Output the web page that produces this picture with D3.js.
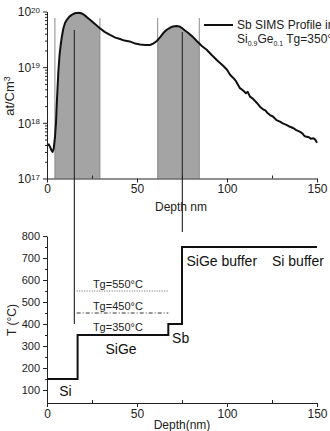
<!DOCTYPE html>
<html>
<head>
<meta charset="utf-8">
<script src="https://cdn.jsdelivr.net/npm/d3@7"></script>
<style>
  html,body{margin:0;padding:0;background:#fff}
  svg{display:block;font-family:'Liberation Sans',Arial,sans-serif}
</style>
</head>
<body>
<svg id="chart" width="330" height="431"></svg>
<script>
// SIMS profile (depth in nm, Sb concentration at/cm3)
const simsDepth = [0, 1, 1.7, 2.5, 3.1, 3.7, 4.4, 5, 5.4, 6.3, 7, 7.6, 8.3, 9.1, 10, 11, 12.3, 13.7, 15.5, 17.4,
  19, 20.2, 22, 23.9, 26.5, 29.4, 32, 35, 38, 40.6, 43, 46, 49, 51.7, 54.5, 57.2, 59, 61, 63, 64.6,
  66.5, 68.3, 70, 72, 73.5, 74.8, 76.5, 78.5, 81, 83.2, 86, 88.7, 91.5, 94.3, 96, 98, 100, 101.7, 103.5, 105,
  107.2, 109, 110.5, 111.5, 112.8, 114.5, 116.5, 118.3, 120, 121.5, 122.5, 123.9, 125.5, 127.5, 129.4, 131, 133, 135, 137, 138.5,
  140.6, 142, 143, 144.3, 145.5, 146.5, 148, 149, 150];
const simsConc = [4.0e17, 4.1e17, 3.7e17, 3.2e17, 3.0e17, 3.4e17, 5.4e17, 1.0e18, 2.1e18, 8.3e18, 1.7e19, 2.5e19, 3.6e19, 5.0e19, 6.2e19, 7.1e19, 8.0e19, 8.7e19, 9.3e19, 9.5e19,
  9.3e19, 8.9e19, 8.0e19, 7.1e19, 6.0e19, 5.0e19, 4.3e19, 3.8e19, 3.4e19, 3.2e19, 3.0e19, 2.9e19, 2.65e19, 2.55e19, 2.5e19, 2.5e19, 2.65e19, 2.95e19, 3.5e19, 4.1e19,
  4.7e19, 5.1e19, 5.4e19, 5.5e19, 5.4e19, 5.1e19, 4.6e19, 4.1e19, 3.5e19, 2.95e19, 2.4e19, 2.05e19, 1.65e19, 1.35e19, 1.2e19, 1.05e19, 9.0e18, 7.3e18, 6.4e18, 5.6e18,
  4.2e18, 3.8e18, 3.4e18, 3.6e18, 2.95e18, 2.7e18, 2.3e18, 1.95e18, 1.75e18, 1.65e18, 1.5e18, 1.38e18, 1.3e18, 1.12e18, 1.05e18, 9.8e17, 9.2e17, 8.5e17, 8.0e17, 7.4e17,
  6.9e17, 6.4e17, 5.8e17, 5.6e17, 5.5e17, 5.2e17, 5.3e17, 5.0e17, 4.4e17];
const bands = [[4.4, 29.4], [61.5, 84.6]];
const markerDepths = [15.2, 75.2];

// growth temperature steps
const stepDepth = [0, 17, 17, 67.4, 67.4, 75, 75, 150];
const stepTemp = [150, 150, 350, 350, 400, 400, 750, 750];
const tgLevels = [550, 450];
const tgRange = [16.5, 67.4];
const layerLabels = [
  { text: 'Si', d: 6.8, t: 75 },
  { text: 'SiGe', d: 32.5, t: 265 },
  { text: 'Sb', d: 69.5, t: 315 },
  { text: 'SiGe buffer', d: 77.5, t: 665 },
  { text: 'Si buffer', d: 125, t: 665 },
];
const tgLabels = [
  { text: 'Tg=550°C', d: 25.5, t: 565 },
  { text: 'Tg=450°C', d: 25.5, t: 465 },
  { text: 'Tg=350°C', d: 25.5, t: 366 },
];

const svg = d3.select('#chart');
const x = d3.scaleLinear().domain([0, 150]).range([47, 317]);
const yTop = d3.scaleLog().domain([1e17, 1e20]).range([178.5, 11.5]);
const yBot = d3.scaleLinear().domain([41, 800]).range([403, 236]);

// ---------- top panel ----------
const sims = simsDepth.map((d, i) => ({ d, c: simsConc[i] }));
const defs = svg.append('defs');
const clip = defs.append('clipPath').attr('id', 'bandclip');
bands.forEach(b => {
  clip.append('rect').attr('x', x(b[0])).attr('y', 0)
    .attr('width', x(b[1]) - x(b[0])).attr('height', 200);
});
svg.append('path').datum(sims)
  .attr('clip-path', 'url(#bandclip)')
  .attr('fill', '#a4a4a4')
  .attr('d', d3.area().x(p => x(p.d)).y0(yTop(1e17)).y1(p => yTop(p.c)));

bands.flat().forEach(v => {
  svg.append('line').attr('x1', x(v)).attr('x2', x(v))
    .attr('y1', 18).attr('y2', yTop(1e17))
    .attr('stroke', '#8a8a8a').attr('stroke-width', 1);
});

svg.append('path').datum(sims)
  .attr('fill', 'none').attr('stroke', '#111').attr('stroke-width', 2)
  .attr('stroke-linejoin', 'round')
  .attr('d', d3.line().x(p => x(p.d)).y(p => yTop(p.c)));

// long marker lines running through both panels
svg.append('line').attr('x1', x(markerDepths[0])).attr('x2', x(markerDepths[0]))
  .attr('y1', 30).attr('y2', yBot(400))
  .attr('stroke', '#333').attr('stroke-width', 1.2);
svg.append('line').attr('x1', x(markerDepths[1])).attr('x2', x(markerDepths[1]))
  .attr('y1', 32).attr('y2', 232)
  .attr('stroke', '#333').attr('stroke-width', 1.2);

const axStyle = g => {
  g.selectAll('path,line').attr('stroke', '#222').attr('stroke-width', 1);
  g.selectAll('text').attr('fill', '#222').style('font-family', "'Liberation Sans',Arial,sans-serif");
};

// top x axis
svg.append('g').attr('transform', `translate(0,${yTop(1e17)})`)
  .call(d3.axisBottom(x).tickValues([0, 50, 100, 150]).tickSize(4).tickSizeOuter(0).tickPadding(2))
  .call(axStyle).call(g => g.selectAll('text').style('font-size', '12px'));
svg.append('g').attr('transform', `translate(0,${yTop(1e17)})`)
  .call(d3.axisBottom(x).tickValues([25, 75, 125]).tickSize(-3).tickFormat(''))
  .call(axStyle).call(g => g.select('.domain').remove());

// top y axis (log)
const minorLog = [];
[17, 18, 19].forEach(e => d3.range(2, 10).forEach(m => minorLog.push(m * Math.pow(10, e))));
svg.append('g').attr('transform', 'translate(47,0)')
  .call(d3.axisLeft(yTop).tickValues(minorLog).tickSize(2).tickFormat(''))
  .call(axStyle).call(g => g.select('.domain').remove());
svg.append('g').attr('transform', 'translate(47,0)')
  .call(d3.axisLeft(yTop).tickValues([1e17, 1e18, 1e19, 1e20]).tickSize(4).tickSizeOuter(0).tickFormat(''))
  .call(axStyle)
  .call(g => g.selectAll('.tick text').each(function (d) {
    const t = d3.select(this).attr('x', -7).attr('dy', '0.35em').style('font-size', '12px');
    t.append('tspan').text('10');
    t.append('tspan').attr('dy', '-0.45em').style('font-size', '8px').text(Math.round(Math.log10(d)));
  }));

svg.append('text').attr('x', 181).attr('y', 211).attr('text-anchor', 'middle')
  .style('font-size', '12px').attr('fill', '#222').text('Depth nm');
svg.append('text').attr('transform', 'translate(14,96) rotate(-90)')
  .attr('text-anchor', 'middle').style('font-size', '13px').attr('fill', '#222')
  .call(t => {
    t.append('tspan').text('at/Cm');
    t.append('tspan').attr('dy', '-0.45em').style('font-size', '9px').text('3');
  });

// legend
svg.append('line').attr('x1', 204).attr('x2', 233).attr('y1', 25).attr('y2', 25)
  .attr('stroke', '#111').attr('stroke-width', 2);
svg.append('text').attr('x', 237).attr('y', 29).style('font-size', '12px').attr('fill', '#222')
  .text('Sb SIMS Profile in');
svg.append('text').attr('x', 237).attr('y', 43).style('font-size', '12px').attr('fill', '#222')
  .call(t => {
    t.append('tspan').text('Si');
    t.append('tspan').attr('dy', 2.5).style('font-size', '7px').text('0.9');
    t.append('tspan').attr('dy', -2.5).text('Ge');
    t.append('tspan').attr('dy', 2.5).style('font-size', '7px').text('0.1');
    t.append('tspan').attr('dy', -2.5).text(' Tg=350°C');
  });

// ---------- bottom panel ----------
const steps = stepDepth.map((d, i) => ({ d, t: stepTemp[i] }));
svg.append('path').datum(steps)
  .attr('fill', 'none').attr('stroke', '#111').attr('stroke-width', 2)
  .attr('d', d3.line().x(p => x(p.d)).y(p => yBot(p.t)));

svg.append('line').attr('x1', x(tgRange[0])).attr('x2', x(tgRange[1]))
  .attr('y1', yBot(tgLevels[0])).attr('y2', yBot(tgLevels[0]))
  .attr('stroke', '#666').attr('stroke-width', 1).attr('stroke-dasharray', '1,1.5');
svg.append('line').attr('x1', x(tgRange[0])).attr('x2', x(tgRange[1]))
  .attr('y1', yBot(tgLevels[1])).attr('y2', yBot(tgLevels[1]))
  .attr('stroke', '#333').attr('stroke-width', 1).attr('stroke-dasharray', '4,2,1,2');

tgLabels.forEach(l => {
  svg.append('text').attr('x', x(l.d)).attr('y', yBot(l.t))
    .style('font-size', '11px').attr('fill', '#222').text(l.text);
});
layerLabels.forEach(l => {
  svg.append('text').attr('x', x(l.d)).attr('y', yBot(l.t))
    .style('font-size', '14px').attr('fill', '#111').text(l.text);
});

// bottom axes
svg.append('g').attr('transform', `translate(0,${yBot(41)})`)
  .call(d3.axisBottom(x).tickValues([0, 50, 100, 150]).tickSize(4).tickSizeOuter(0).tickPadding(2))
  .call(axStyle).call(g => g.selectAll('text').style('font-size', '12px'));
svg.append('g').attr('transform', `translate(0,${yBot(41)})`)
  .call(d3.axisBottom(x).tickValues([25, 75, 125]).tickSize(-3).tickFormat(''))
  .call(axStyle).call(g => g.select('.domain').remove());

svg.append('g').attr('transform', 'translate(47,0)')
  .call(d3.axisLeft(yBot).tickValues(d3.range(150, 800, 100)).tickSize(2).tickFormat(''))
  .call(axStyle).call(g => g.select('.domain').remove());
svg.append('g').attr('transform', 'translate(47,0)')
  .call(d3.axisLeft(yBot).tickValues(d3.range(100, 801, 100)).tickSize(4).tickSizeOuter(0).tickPadding(3))
  .call(axStyle).call(g => g.selectAll('text').style('font-size', '11px'));

svg.append('text').attr('x', 182).attr('y', 429).attr('text-anchor', 'middle')
  .style('font-size', '12px').attr('fill', '#222').text('Depth(nm)');
svg.append('text').attr('transform', 'translate(16,320) rotate(-90)')
  .attr('text-anchor', 'middle').style('font-size', '12px').attr('fill', '#222').text('T (°C)');
</script>
</body>
</html>
